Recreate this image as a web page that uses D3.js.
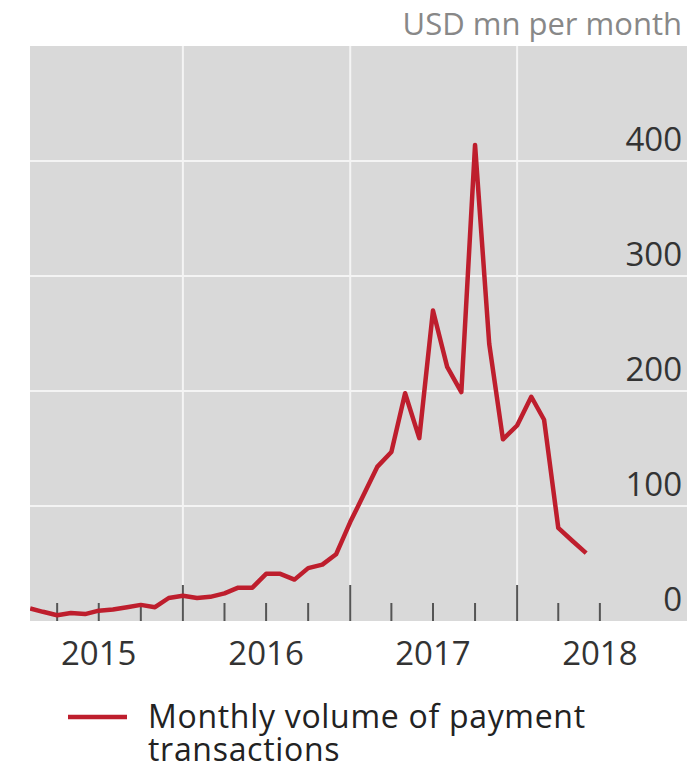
<!DOCTYPE html>
<html>
<head>
<meta charset="utf-8">
<script src="https://cdn.jsdelivr.net/npm/d3@7"></script>
<style>
  body { margin: 0; background: #fff; }
  svg text { font-family: "Open Sans", "Noto Sans", sans-serif; }
</style>
</head>
<body>
<svg id="chart" width="692" height="770"></svg>
<script>
// Monthly volume of payment transactions, USD mn
const months = [
  "2015-02", "2015-03", "2015-04", "2015-05", "2015-06", "2015-07", "2015-08", "2015-09", "2015-10", "2015-11", "2015-12",
  "2016-01", "2016-02", "2016-03", "2016-04", "2016-05", "2016-06", "2016-07", "2016-08", "2016-09", "2016-10", "2016-11", "2016-12",
  "2017-01", "2017-02", "2017-03", "2017-04", "2017-05", "2017-06", "2017-07", "2017-08", "2017-09", "2017-10", "2017-11", "2017-12",
  "2018-01", "2018-02", "2018-03", "2018-04", "2018-05", "2018-06"
];
const volumes = [
  11, 8, 5, 7, 6, 9, 10, 12, 14, 12, 20,
  22, 20, 21, 24, 29, 29, 41, 41, 36, 46, 49, 58,
  86, 111, 134, 147, 198, 159, 270, 221, 199, 414, 241, 158,
  170, 195, 175, 81, 70, 59
];
const yTicks = [0, 100, 200, 300, 400];
const years = ["2015", "2016", "2017", "2018"];
const legendLines = ["Monthly volume of payment", "transactions"];

const parseMonth = d3.timeParse("%Y-%m");
const data = months.map((m, i) => ({ date: parseMonth(m), value: volumes[i] }));

const svg = d3.select("#chart");
const plot = { left: 30, right: 687, top: 46, bottom: 621 };

const x = d3.scaleTime()
    .domain([new Date(2015, 0, 1), new Date(2019, 0, 1)])
    .range([16, 684]);
const y = d3.scaleLinear()
    .domain([0, 400])
    .range([plot.bottom, 161]);

// background
svg.append("rect")
    .attr("x", plot.left).attr("y", plot.top)
    .attr("width", plot.right - plot.left).attr("height", plot.bottom - plot.top)
    .attr("fill", "#d9d9d9");

svg.append("clipPath").attr("id", "clip")
  .append("rect")
    .attr("x", plot.left).attr("y", plot.top)
    .attr("width", plot.right - plot.left).attr("height", plot.bottom - plot.top);

// horizontal grid
svg.append("g").selectAll("line")
    .data(yTicks.filter(d => d > 0))
    .join("line")
    .attr("x1", plot.left).attr("x2", plot.right)
    .attr("y1", d => y(d)).attr("y2", d => y(d))
    .attr("stroke", "#f4f4f4").attr("stroke-width", 2);

// vertical grid at year starts
const yearStarts = years.slice(1).map(t => new Date(+t, 0, 1));
svg.append("g").selectAll("line")
    .data(yearStarts)
    .join("line")
    .attr("x1", d => x(d)).attr("x2", d => x(d))
    .attr("y1", plot.top).attr("y2", plot.bottom)
    .attr("stroke", "#f4f4f4").attr("stroke-width", 2);

// quarterly ticks along the bottom
const quarters = d3.timeMonth.every(3).range(new Date(2015, 3, 1), new Date(2018, 7, 1));
svg.append("g").selectAll("line")
    .data(quarters)
    .join("line")
    .attr("x1", d => x(d)).attr("x2", d => x(d))
    .attr("y1", d => d.getMonth() === 0 ? plot.bottom - 36 : plot.bottom - 18)
    .attr("y2", plot.bottom)
    .attr("stroke", "#555").attr("stroke-width", 2);

// year labels centred mid-year
svg.append("g").selectAll("text")
    .data(years)
    .join("text")
    .attr("x", d => x(new Date(+d, 6, 1)))
    .attr("y", 665)
    .attr("text-anchor", "middle")
    .attr("font-size", 33)
    .attr("fill", "#333")
    .text(d => d);

// y labels on the right, sitting above gridlines
svg.append("g").selectAll("text")
    .data(yTicks)
    .join("text")
    .attr("x", 682)
    .attr("y", d => y(d) - 10)
    .attr("text-anchor", "end")
    .attr("font-size", 33)
    .attr("fill", "#333")
    .text(d => d);

svg.append("text")
    .attr("x", 682).attr("y", 35)
    .attr("text-anchor", "end")
    .attr("font-size", 31)
    .attr("fill", "#888")
    .text("USD mn per month");

// the line
const line = d3.line()
    .x(d => x(d.date))
    .y(d => y(d.value));

svg.append("path")
    .datum(data)
    .attr("clip-path", "url(#clip)")
    .attr("fill", "none")
    .attr("stroke", "#be1e2d")
    .attr("stroke-width", 4.5)
    .attr("stroke-linejoin", "round")
    .attr("d", line);

// legend
svg.append("line")
    .attr("x1", 68).attr("x2", 127)
    .attr("y1", 717).attr("y2", 717)
    .attr("stroke", "#be1e2d").attr("stroke-width", 4.5);

svg.append("g").selectAll("text")
    .data(legendLines)
    .join("text")
    .attr("x", 148)
    .attr("y", (d, i) => 728 + i * 33)
    .attr("font-size", 32)
    .attr("letter-spacing", 0.7)
    .attr("fill", "#222")
    .text(d => d);
</script>
</body>
</html>
